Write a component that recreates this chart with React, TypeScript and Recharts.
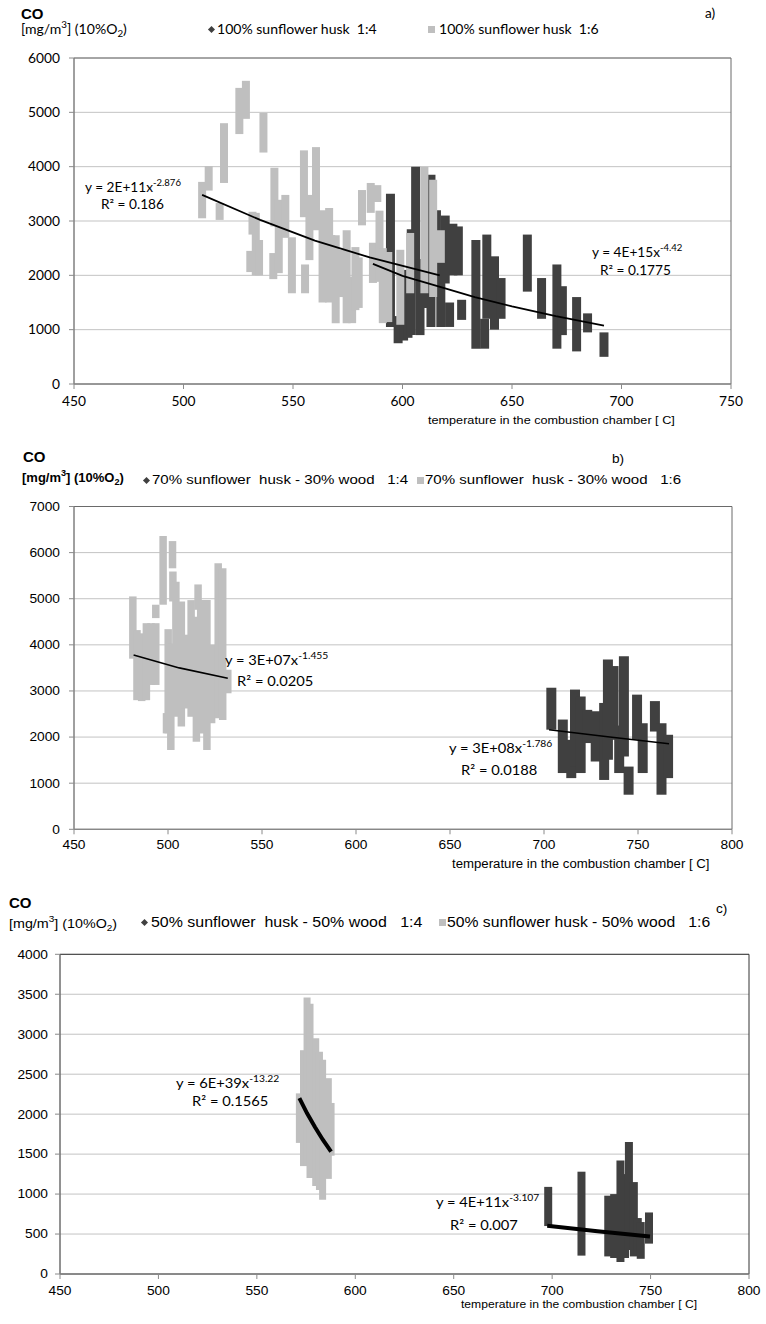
import React from 'react';
import { ScatterChart, Scatter, XAxis, YAxis, CartesianGrid, ErrorBar, ReferenceArea } from 'recharts';

// ---------- Panel a) 100% sunflower husk ----------
const aXTicks = [450, 500, 550, 600, 650, 700, 750];
const aYTicks = [0, 1000, 2000, 3000, 4000, 5000, 6000];
const aGreyX = [508.5, 511.5, 516.5, 518.5, 525.5, 528.5, 530.5, 531.5, 533, 534.5, 536.5, 541, 541.5, 543.5, 546.5, 549.5, 555, 555.5, 557.5, 560.5, 563.5, 566.5, 567.5, 569.5, 572.5, 574.5, 577, 578.5, 580, 581.5, 585.5, 586.5, 588.5, 589.5, 591, 593.5, 599, 603.5, 610, 614, 617.5];
const aGreyLo = [3050, 3560, 3020, 3700, 4600, 4880, 2060, 2750, 2000, 2000, 4260, 1930, 2900, 2040, 2690, 1670, 3070, 1670, 2280, 2830, 1500, 1500, 1730, 1120, 1600, 1120, 1120, 1360, 1400, 2920, 3150, 1860, 3350, 1880, 1120, 1140, 1090, 1670, 1670, 1600, 2230];
const aGreyHi = [3720, 4010, 3330, 4800, 5450, 5580, 2450, 3170, 3150, 2650, 4990, 2410, 3980, 3390, 3480, 2700, 4300, 2200, 3480, 4360, 3200, 3240, 2740, 2740, 2470, 2830, 1970, 2520, 2330, 3570, 3700, 2600, 3660, 3190, 2500, 2430, 2470, 2780, 4000, 3760, 2830];
const aDarkX = [594.5, 598, 600.5, 602.5, 604, 606, 608, 611, 613, 615.5, 617.5, 619.5, 621.5, 623, 625.5, 627, 633.5, 637.5, 638.5, 642, 645, 657, 663.5, 670.5, 673, 679.5, 684.5, 692];
const aDarkLo = [1050, 750, 800, 850, 900, 1950, 900, 1400, 1050, 1600, 1050, 1850, 1050, 2000, 2000, 1180, 650, 650, 1200, 1000, 1200, 1700, 1200, 650, 900, 600, 950, 500];
const aDarkHi = [3500, 1250, 1800, 2100, 2850, 4000, 2300, 3800, 3850, 3200, 2650, 3100, 1500, 2950, 2900, 1550, 2650, 1200, 2750, 2350, 1950, 2750, 1950, 2200, 1800, 1600, 1300, 950];
const aGreyTrendX = [508.5, 535, 560, 585, 617];
const aGreyTrendY = [3480, 3020, 2640, 2330, 2000];
const aDarkTrendX = [586.5, 600, 616, 633, 650, 670, 692];
const aDarkTrendY = [2210, 1990, 1800, 1600, 1430, 1250, 1075];

// ---------- Panel b) 70% sunflower husk - 30% wood ----------
const bXTicks = [450, 500, 550, 600, 650, 700, 750, 800];
const bYTicks = [0, 1000, 2000, 3000, 4000, 5000, 6000, 7000];
const bGreyX = [481.3, 483.5, 486, 488.5, 491, 493.5, 493.5, 497.4, 499.2, 500.1, 501.5, 502.4, 502.6, 504.2, 507.1, 508.9, 512.3, 515.1, 516, 517.4, 520.7, 523.2, 526.7, 529.1, 531.8];
const bGreyLo = [3700, 2800, 2780, 2800, 3130, 4580, 3130, 4870, 2080, 2080, 1720, 5660, 4940, 2440, 2230, 2620, 2440, 1900, 4760, 2080, 1720, 2300, 2410, 2370, 2950];
const bGreyHi = [5050, 4320, 4250, 4470, 4470, 4870, 4470, 6360, 2520, 4340, 4030, 6250, 5590, 5370, 4940, 4220, 4970, 4610, 5310, 4970, 4970, 4000, 5770, 5660, 3460];
const bDarkX = [703.9, 710, 714.5, 716.5, 719.5, 723, 727.5, 732, 734, 737, 740, 742.5, 745, 749.5, 752.5, 759, 762.5, 766];
const bDarkLo = [2160, 1220, 1110, 1360, 1220, 1870, 1470, 1070, 1510, 1940, 1220, 1580, 750, 1940, 1220, 2120, 750, 1110];
const bDarkHi = [3070, 2380, 1940, 3030, 2880, 2590, 2560, 2740, 3680, 3540, 2250, 3750, 1360, 2920, 2300, 2780, 2300, 2050];
const bGreyTrendX = [481.7, 506, 531.8];
const bGreyTrendY = [3780, 3500, 3275];
const bDarkTrendX = [702.7, 735, 766.5];
const bDarkTrendY = [2160, 2000, 1855];

// ---------- Panel c) 50% sunflower husk - 50% wood ----------
const cXTicks = [450, 500, 550, 600, 650, 700, 750, 800];
const cYTicks = [0, 500, 1000, 1500, 2000, 2500, 3000, 3500, 4000];
const cGreyX = [571.6, 573.7, 575.5, 577, 579.9, 581.8, 583.4, 586.3, 587.7];
const cGreyLo = [1640, 1350, 1350, 1200, 1100, 1050, 930, 1190, 1480];
const cGreyHi = [2260, 2800, 3460, 3380, 2950, 2780, 2680, 2450, 2140];
const cDarkX = [698, 714.9, 728.5, 731.5, 734.7, 737, 739, 741.5, 743.5, 745, 749.2];
const cDarkLo = [600, 230, 220, 200, 150, 200, 300, 220, 250, 190, 380];
const cDarkHi = [1090, 1280, 980, 1000, 1420, 1250, 1650, 1150, 700, 650, 770];
const cGreyTrendX = [571.6, 575.5, 579.5, 583.5, 587.7];
const cGreyTrendY = [2200, 2010, 1838, 1680, 1530];
const cDarkTrendX = [697.5, 723, 749.7];
const cDarkTrendY = [604, 535, 470];

const GREY = '#bfbfbf';
const DARK = '#404040';

const toCols = (xs: number[], lo: number[], hi: number[]) =>
  xs.map((x, i) => ({ x, y: (lo[i] + hi[i]) / 2, e: (hi[i] - lo[i]) / 2 }));
const toLine = (xs: number[], ys: number[]) => xs.map((x, i) => ({ x, y: ys[i] }));

const NoShape = () => <g />;

const makeTick = (family: string, size: number, sx: number, axis: 'x' | 'y') => (props: any) => {
  const { x, y, payload } = props;
  return (
    <g transform={`translate(${x},${y})`}>
      <text
        transform={`scale(${sx},1)`}
        textAnchor={axis === 'x' ? 'middle' : 'end'}
        dy={axis === 'x' ? '0.71em' : '0.35em'}
        fontFamily={family}
        fontSize={size}
        fill="#000"
      >
        {payload.value}
      </text>
    </g>
  );
};

type PanelProps = {
  top: number;
  height: number;
  margin: { top: number; right: number; bottom: number; left: number };
  yWidth: number;
  xDomain: [number, number];
  yDomain: [number, number];
  xTicks: number[];
  yTicks: number[];
  grey: any[];
  dark: any[];
  greyTrend: any[];
  darkTrend: any[];
  greyW: number;
  darkW: number;
  trendW: number;
  family: string;
  tickSize: number;
  tickSx: number;
  xTickMargin: number;
  yTickMargin: number;
  border: string;
};

function Panel(p: PanelProps) {
  return (
    <div style={{ position: 'absolute', left: 0, top: p.top }}>
      <ScatterChart width={766} height={p.height} margin={p.margin}>
        <CartesianGrid vertical={false} stroke="#c3c3c3" />
        <XAxis
          type="number"
          dataKey="x"
          domain={p.xDomain}
          ticks={p.xTicks}
          interval={0}
          allowDataOverflow
          height={30}
          stroke="#8a8a8a"
          tickSize={5}
          tickMargin={p.xTickMargin}
          tick={makeTick(p.family, p.tickSize, p.tickSx, 'x')}
        />
        <YAxis
          type="number"
          dataKey="y"
          domain={p.yDomain}
          ticks={p.yTicks}
          interval={0}
          allowDataOverflow
          width={p.yWidth}
          stroke="#8a8a8a"
          tickSize={5}
          tickMargin={p.yTickMargin}
          tick={makeTick(p.family, p.tickSize, p.tickSx, 'y')}
        />
        <ReferenceArea
          x1={p.xDomain[0]}
          x2={p.xDomain[1]}
          y1={p.yDomain[0]}
          y2={p.yDomain[1]}
          fill="none"
          fillOpacity={0}
          stroke={p.border}
          strokeWidth={1}
          ifOverflow="visible"
        />
        <Scatter data={p.dark} fill={DARK} shape={NoShape} isAnimationActive={false}>
          <ErrorBar dataKey="e" direction="y" width={0} stroke={DARK} strokeWidth={p.darkW} isAnimationActive={false} />
        </Scatter>
        <Scatter data={p.grey} fill={GREY} shape={NoShape} isAnimationActive={false}>
          <ErrorBar dataKey="e" direction="y" width={0} stroke={GREY} strokeWidth={p.greyW} isAnimationActive={false} />
        </Scatter>
        <Scatter
          data={p.greyTrend}
          fill="#000"
          shape={NoShape}
          line={{ stroke: '#000', strokeWidth: p.trendW }}
          lineType="joint"
          isAnimationActive={false}
        />
        <Scatter
          data={p.darkTrend}
          fill="#000"
          shape={NoShape}
          line={{ stroke: '#000', strokeWidth: p.trendW }}
          lineType="joint"
          isAnimationActive={false}
        />
      </ScatterChart>
    </div>
  );
}

type TProps = {
  x: number;
  y: number;
  size: number;
  family?: string;
  bold?: boolean;
  sx?: number;
  children: React.ReactNode;
};

function T({ x, y, size, family = 'Liberation Sans', bold = false, sx = 1.1, children }: TProps) {
  return (
    <div
      style={{
        position: 'absolute',
        left: x,
        top: y,
        fontFamily: family,
        fontSize: size,
        fontWeight: bold ? 700 : 400,
        lineHeight: 1,
        whiteSpace: 'pre',
        color: '#000',
        transform: `translateY(-50%) scaleX(${sx})`,
        transformOrigin: '0 50%',
      }}
    >
      {children}
    </div>
  );
}

const Sup = ({ children }: { children: React.ReactNode }) => (
  <span style={{ fontSize: '0.7em', verticalAlign: 'super', lineHeight: 0 }}>{children}</span>
);
const Sub = ({ children }: { children: React.ReactNode }) => (
  <span style={{ fontSize: '0.7em', verticalAlign: 'sub', lineHeight: 0 }}>{children}</span>
);

const Diamond = ({ x, y, s = 6 }: { x: number; y: number; s?: number }) => (
  <div
    style={{
      position: 'absolute',
      left: x - s / 2,
      top: y - s / 2,
      width: s,
      height: s,
      background: DARK,
      transform: 'rotate(45deg)',
    }}
  />
);
const Square = ({ x, y, s = 7 }: { x: number; y: number; s?: number }) => (
  <div
    style={{ position: 'absolute', left: x - s / 2, top: y - s / 2, width: s, height: s, background: GREY }}
  />
);

const Units = () => (
  <>
    [mg/m<Sup>3</Sup>] (10%O<Sub>2</Sub>)
  </>
);

export default function App() {
  return (
    <div
      style={{
        position: 'absolute',
        left: 0,
        top: 0,
        width: 766,
        height: 1324,
        background: '#fff',
        overflow: 'hidden',
      }}
    >
      {/* Panel a */}
      <Panel
        top={0}
        height={430}
        margin={{ top: 58, right: 35, bottom: 16, left: 0 }}
        yWidth={74}
        xDomain={[450, 750]}
        yDomain={[0, 6000]}
        xTicks={aXTicks}
        yTicks={aYTicks}
        grey={toCols(aGreyX, aGreyLo, aGreyHi)}
        dark={toCols(aDarkX, aDarkLo, aDarkHi)}
        greyTrend={toLine(aGreyTrendX, aGreyTrendY)}
        darkTrend={toLine(aDarkTrendX, aDarkTrendY)}
        greyW={8}
        darkW={9}
        trendW={1.8}
        family="Lato"
        tickSize={13}
        tickSx={1.06}
        xTickMargin={8}
        yTickMargin={9}
        border="#6a6a6a"
      />
      <T x={21} y={13} size={15} bold sx={1}>CO</T>
      <T x={21} y={29} size={13} family="Lato" sx={1.08}><Units /></T>
      <Diamond x={211} y={29} s={5} />
      <T x={217} y={29} size={13} family="Lato" sx={1.08}>{'100% sunflower husk  1:4'}</T>
      <Square x={431} y={29} s={7} />
      <T x={439} y={29} size={13} family="Lato" sx={1.08}>{'100% sunflower husk  1:6'}</T>
      <T x={705} y={13} size={13} family="Lato" sx={1.05}>a)</T>
      <T x={85} y={187} size={13} family="Lato" sx={1.05}>y = 2E+11x<Sup>-2.876</Sup></T>
      <T x={101} y={204} size={13} family="Lato" sx={1.05}>R² = 0.186</T>
      <T x={592} y={252} size={13} family="Lato" sx={1.05}>y = 4E+15x<Sup>-4.42</Sup></T>
      <T x={600} y={270} size={13} family="Lato" sx={1.05}>R² = 0.1775</T>
      <T x={428} y={421} size={11.5} sx={1.1}>temperature in the combustion chamber [ C]</T>

      {/* Panel b */}
      <Panel
        top={440}
        height={440}
        margin={{ top: 66.5, right: 34, bottom: 20.7, left: 0 }}
        yWidth={74}
        xDomain={[450, 800]}
        yDomain={[0, 7000]}
        xTicks={bXTicks}
        yTicks={bYTicks}
        grey={toCols(bGreyX, bGreyLo, bGreyHi)}
        dark={toCols(bDarkX, bDarkLo, bDarkHi)}
        greyTrend={toLine(bGreyTrendX, bGreyTrendY)}
        darkTrend={toLine(bDarkTrendX, bDarkTrendY)}
        greyW={7.5}
        darkW={10}
        trendW={1.6}
        family="Liberation Sans"
        tickSize={12.5}
        tickSx={1.1}
        xTickMargin={6}
        yTickMargin={9}
        border="#6a6a6a"
      />
      <T x={23} y={456} size={15} bold sx={1}>CO</T>
      <T x={22} y={477} size={13} bold sx={1.0}><Units /></T>
      <Diamond x={146} y={480} s={5} />
      <T x={152} y={480} size={13.7} sx={1.1}>{'70% sunflower  husk - 30% wood   1:4'}</T>
      <Square x={420} y={480} s={7} />
      <T x={425} y={480} size={13.7} sx={1.1}>{'70% sunflower  husk - 30% wood   1:6'}</T>
      <T x={612} y={458} size={13} sx={1.05}>b)</T>
      <T x={225} y={660} size={14} family="Lato" sx={1.05}>y = 3E+07x<Sup>-1.455</Sup></T>
      <T x={237} y={681} size={14} family="Lato" sx={1.05}>R² = 0.0205</T>
      <T x={449} y={748} size={14} family="Lato" sx={1.05}>y = 3E+08x<Sup>-1.786</Sup></T>
      <T x={461} y={770} size={14} family="Lato" sx={1.05}>R² = 0.0188</T>
      <T x={452} y={864} size={12} sx={1.1}>temperature in the combustion chamber [ C]</T>

      {/* Panel c */}
      <Panel
        top={880}
        height={444}
        margin={{ top: 74.3, right: 17, bottom: 20, left: 0 }}
        yWidth={60}
        xDomain={[450, 800]}
        yDomain={[0, 4000]}
        xTicks={cXTicks}
        yTicks={cYTicks}
        grey={toCols(cGreyX, cGreyLo, cGreyHi)}
        dark={toCols(cDarkX, cDarkLo, cDarkHi)}
        greyTrend={toLine(cGreyTrendX, cGreyTrendY)}
        darkTrend={toLine(cDarkTrendX, cDarkTrendY)}
        greyW={7}
        darkW={8}
        trendW={4}
        family="Liberation Sans"
        tickSize={12.5}
        tickSx={1.1}
        xTickMargin={7}
        yTickMargin={7}
        border="#333"
      />
      <T x={9} y={902} size={15} bold sx={1}>CO</T>
      <T x={9} y={923} size={13} sx={1.1}><Units /></T>
      <Diamond x={144} y={922} s={5} />
      <T x={151} y={922} size={14.5} sx={1.1}>{'50% sunflower  husk - 50% wood   1:4'}</T>
      <Square x={442} y={922} s={7} />
      <T x={447} y={922} size={14.3} sx={1.1}>{'50% sunflower husk - 50% wood   1:6'}</T>
      <T x={716} y={908} size={13} sx={1.05}>c)</T>
      <T x={176} y={1083} size={14} family="Lato" sx={1.05}>y = 6E+39x<Sup>-13.22</Sup></T>
      <T x={192} y={1101} size={14} family="Lato" sx={1.05}>R² = 0.1565</T>
      <T x={436} y={1202} size={14} family="Lato" sx={1.05}>y = 4E+11x<Sup>-3.107</Sup></T>
      <T x={450} y={1225} size={14} family="Lato" sx={1.05}>R² = 0.007</T>
      <T x={461} y={1304} size={11} sx={1.1}>temperature in the combustion chamber [ C]</T>
    </div>
  );
}
